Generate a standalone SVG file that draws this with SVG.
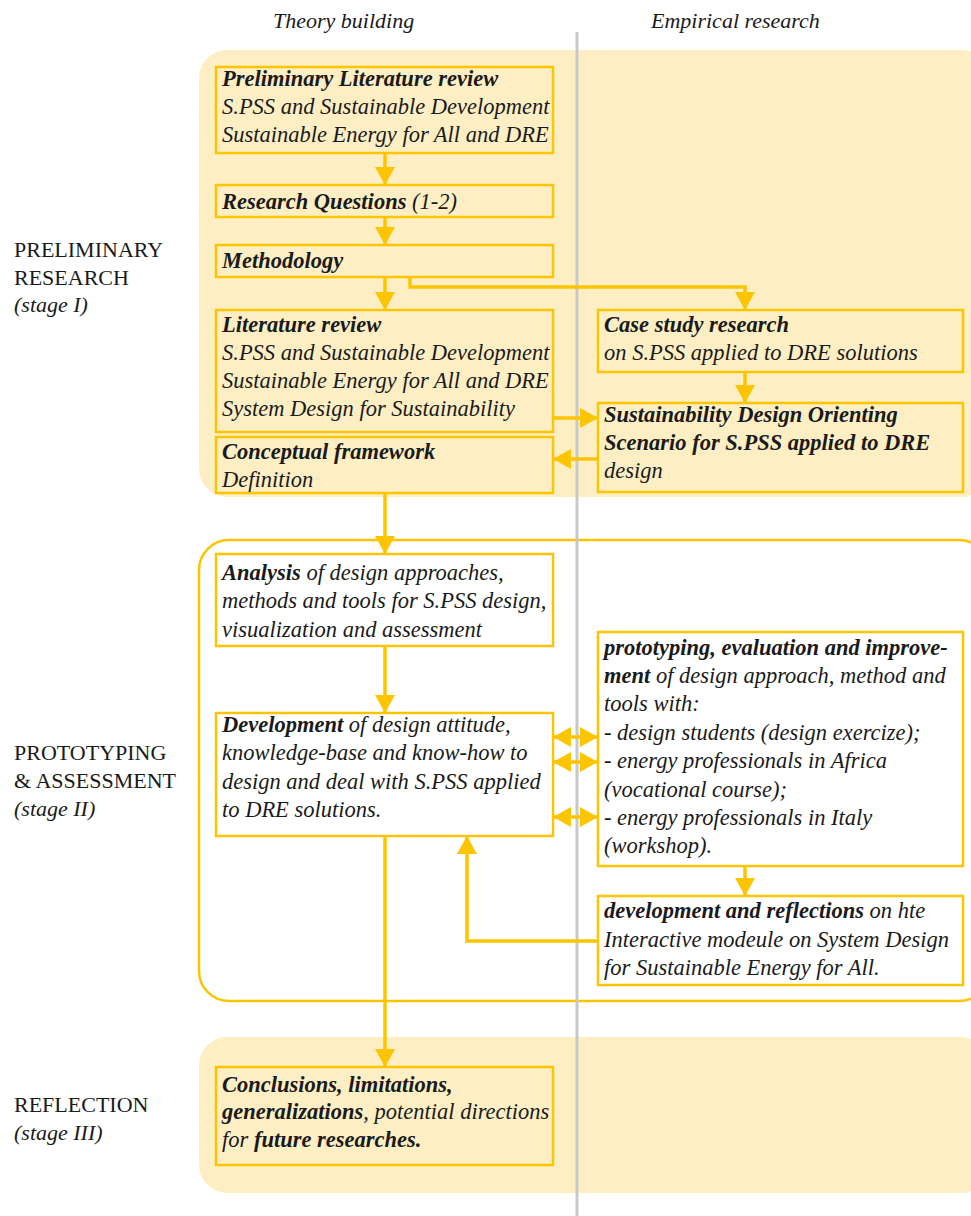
<svg xmlns="http://www.w3.org/2000/svg" width="971" height="1216" viewBox="0 0 971 1216">
  <style>
    .band { fill: #fdefc3; }
    .frame { fill: #ffffff; stroke: #fcc500; stroke-width: 2.5; }
    .box { fill: #fdefc3; stroke: #fcc500; stroke-width: 2.5; }
    .wbox { fill: #ffffff; stroke: #fcc500; stroke-width: 2.5; }
    .t { font-family: "Liberation Serif", "Times New Roman", serif; font-style: italic; font-size: 22.5px; fill: #1a1a1a; }
    .h { font-family: "Liberation Serif", "Times New Roman", serif; font-style: italic; font-size: 22px; fill: #1a1a1a; }
    .b { font-weight: bold; }
    .stage { font-family: "Liberation Serif", "Times New Roman", serif; font-size: 22px; fill: #1a1a1a; }
    .stage.i { font-style: italic; }
    .conn { fill: none; stroke: #fcc500; stroke-width: 3.5; }
    .axis { stroke: #c8c8c8; stroke-width: 3; }
  </style>
  <defs>
    <marker id="arrow" markerUnits="userSpaceOnUse" markerWidth="20" markerHeight="20" refX="18" refY="10" orient="auto-start-reverse">
      <path d="M0,0 L18,10 L0,20 Z" fill="#fcc500"/>
    </marker>
  </defs>

  <!-- stage backgrounds -->
  <g id="stages">
    <rect class="band" x="199" y="50" width="790" height="447" rx="28"/>
    <rect class="frame" x="199" y="540" width="790" height="461" rx="30"/>
    <rect class="band" x="199" y="1037" width="790" height="156" rx="28"/>
  </g>

  <!-- column divider -->
  <line class="axis" x1="577" y1="32" x2="577" y2="1216"/>

  <!-- column headings -->
  <g id="headings">
    <text class="h" x="273" y="28">Theory building</text>
    <text class="h" x="651" y="28">Empirical research</text>
  </g>

  <!-- stage labels -->
  <g id="stage-labels">
    <text class="stage" x="14" y="257">PRELIMINARY</text>
    <text class="stage" x="14" y="285">RESEARCH</text>
    <text class="stage i" x="14" y="312">(stage I)</text>
    <text class="stage" x="14" y="760">PROTOTYPING</text>
    <text class="stage" x="14" y="788">&amp; ASSESSMENT</text>
    <text class="stage i" x="14" y="816">(stage II)</text>
    <text class="stage" x="14" y="1112">REFLECTION</text>
    <text class="stage i" x="14" y="1140">(stage III)</text>
  </g>

  <!-- connectors -->
  <g id="connectors">
    <line class="conn" x1="385" y1="153" x2="385" y2="185" marker-end="url(#arrow)"/>
    <line class="conn" x1="385" y1="217" x2="385" y2="245" marker-end="url(#arrow)"/>
    <line class="conn" x1="385" y1="277" x2="385" y2="310" marker-end="url(#arrow)"/>
    <polyline class="conn" points="410,277 410,287 745,287 745,310" marker-end="url(#arrow)"/>
    <line class="conn" x1="745" y1="372" x2="745" y2="403" marker-end="url(#arrow)"/>
    <line class="conn" x1="553" y1="418" x2="598" y2="418" marker-end="url(#arrow)"/>
    <line class="conn" x1="598" y1="459" x2="553" y2="459" marker-end="url(#arrow)"/>
    <line class="conn" x1="385" y1="493" x2="385" y2="554" marker-end="url(#arrow)"/>
    <line class="conn" x1="385" y1="646" x2="385" y2="713" marker-end="url(#arrow)"/>
    <line class="conn" x1="553" y1="737" x2="598" y2="737" marker-start="url(#arrow)" marker-end="url(#arrow)"/>
    <line class="conn" x1="553" y1="762" x2="598" y2="762" marker-start="url(#arrow)" marker-end="url(#arrow)"/>
    <line class="conn" x1="553" y1="817" x2="598" y2="817" marker-start="url(#arrow)" marker-end="url(#arrow)"/>
    <line class="conn" x1="745" y1="866" x2="745" y2="896" marker-end="url(#arrow)"/>
    <polyline class="conn" points="598,941 467,941 467,836" marker-end="url(#arrow)"/>
    <line class="conn" x1="385" y1="836" x2="385" y2="1067" marker-end="url(#arrow)"/>
  </g>

  <!-- stage I nodes -->
  <g id="prelim-lit">
    <rect class="box" x="216" y="67" width="337" height="86"/>
    <text class="t" x="222" y="86"><tspan class="b">Preliminary Literature review</tspan></text>
    <text class="t" x="222" y="114">S.PSS and Sustainable Development</text>
    <text class="t" x="222" y="142">Sustainable Energy for All and DRE</text>
  </g>
  <g id="research-questions">
    <rect class="box" x="216" y="185" width="337" height="32"/>
    <text class="t" x="222" y="209"><tspan class="b">Research Questions</tspan> (1-2)</text>
  </g>
  <g id="methodology">
    <rect class="box" x="216" y="245" width="337" height="32"/>
    <text class="t" x="222" y="268"><tspan class="b">Methodology</tspan></text>
  </g>
  <g id="literature-review">
    <rect class="box" x="216" y="310" width="337" height="122"/>
    <text class="t" x="222" y="332"><tspan class="b">Literature review</tspan></text>
    <text class="t" x="222" y="360">S.PSS and Sustainable Development</text>
    <text class="t" x="222" y="388">Sustainable Energy for All and DRE</text>
    <text class="t" x="222" y="416">System Design for Sustainability</text>
  </g>
  <g id="conceptual-framework">
    <rect class="box" x="216" y="437" width="337" height="56"/>
    <text class="t" x="222" y="459"><tspan class="b">Conceptual framework</tspan></text>
    <text class="t" x="222" y="487">Definition</text>
  </g>
  <g id="case-study">
    <rect class="box" x="598" y="310" width="365" height="62"/>
    <text class="t" x="604" y="332"><tspan class="b">Case study research</tspan></text>
    <text class="t" x="604" y="360">on S.PSS applied to DRE solutions</text>
  </g>
  <g id="orienting-scenario">
    <rect class="box" x="598" y="403" width="365" height="89"/>
    <text class="t" x="604" y="422"><tspan class="b">Sustainability Design Orienting</tspan></text>
    <text class="t" x="604" y="450"><tspan class="b">Scenario for S.PSS applied to DRE</tspan></text>
    <text class="t" x="604" y="478">design</text>
  </g>

  <!-- stage II nodes -->
  <g id="analysis">
    <rect class="wbox" x="216" y="554" width="337" height="92"/>
    <text class="t" x="222" y="580"><tspan class="b">Analysis</tspan> of design approaches,</text>
    <text class="t" x="222" y="608">methods and tools for S.PSS design,</text>
    <text class="t" x="222" y="637">visualization and assessment</text>
  </g>
  <g id="development">
    <rect class="wbox" x="216" y="713" width="337" height="123"/>
    <text class="t" x="222" y="732"><tspan class="b">Development</tspan> of design attitude,</text>
    <text class="t" x="222" y="760">knowledge-base and know-how to</text>
    <text class="t" x="222" y="789">design and deal with S.PSS applied</text>
    <text class="t" x="222" y="817">to DRE solutions.</text>
  </g>
  <g id="prototyping">
    <rect class="wbox" x="598" y="632" width="365" height="234"/>
    <text class="t" x="604" y="655"><tspan class="b">prototyping, evaluation and improve-</tspan></text>
    <text class="t" x="604" y="683"><tspan class="b">ment</tspan> of design approach, method and</text>
    <text class="t" x="604" y="711">tools with:</text>
    <text class="t" x="604" y="740">- design students (design exercize);</text>
    <text class="t" x="604" y="768">- energy professionals in Africa</text>
    <text class="t" x="604" y="797">(vocational course);</text>
    <text class="t" x="604" y="825">- energy professionals in Italy</text>
    <text class="t" x="604" y="853">(workshop).</text>
  </g>
  <g id="interactive-module">
    <rect class="wbox" x="598" y="896" width="365" height="89"/>
    <text class="t" x="604" y="918"><tspan class="b">development and reflections</tspan> on hte</text>
    <text class="t" x="604" y="947">Interactive modeule on System Design</text>
    <text class="t" x="604" y="975">for Sustainable Energy for All.</text>
  </g>

  <!-- stage III node -->
  <g id="conclusions">
    <rect class="box" x="216" y="1067" width="337" height="98"/>
    <text class="t" x="222" y="1092"><tspan class="b">Conclusions, limitations,</tspan></text>
    <text class="t" x="222" y="1119"><tspan class="b">generalizations</tspan>, potential directions</text>
    <text class="t" x="222" y="1147">for <tspan class="b">future researches.</tspan></text>
  </g>
</svg>
